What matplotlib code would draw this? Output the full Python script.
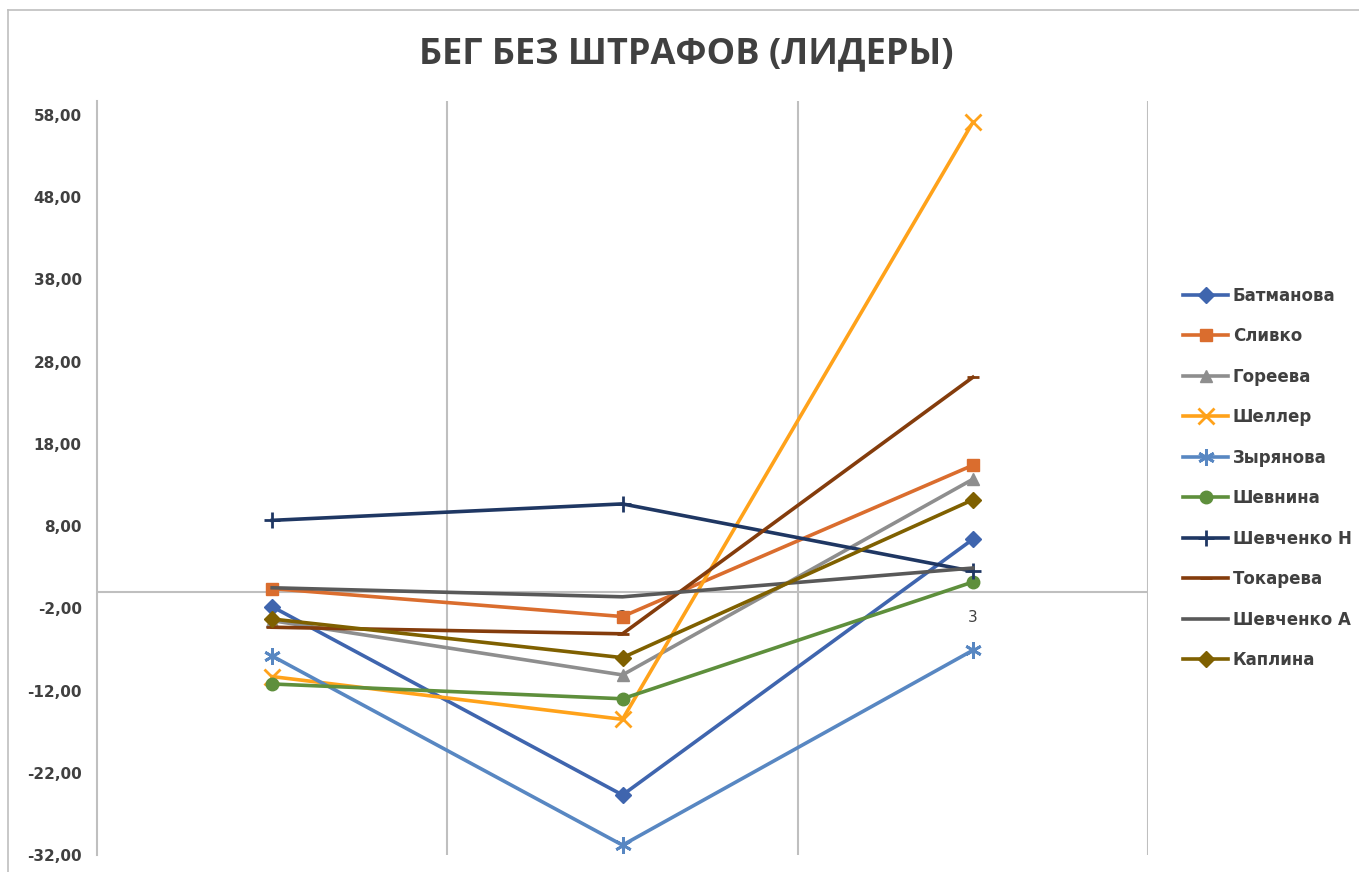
import matplotlib
matplotlib.use("Agg")
import matplotlib.pyplot as plt
from matplotlib.lines import Line2D

# data
categories = ["1", "2", "3"]
names = ["Батманова", "Сливко", "Гореева", "Шеллер", "Зырянова",
         "Шевнина", "Шевченко Н", "Токарева", "Шевченко А", "Каплина"]
batmanova = [-1.8, -24.7, 6.4]
slivko = [0.4, -3.0, 15.4]
goreeva = [-3.5, -10.1, 13.7]
sheller = [-10.3, -15.5, 57.1]
zyryanova = [-7.8, -30.8, -7.1]
shevnina = [-11.2, -13.0, 1.2]
shevchenko_n = [8.7, 10.7, 2.5]
tokareva = [-4.3, -5.1, 26.1]
shevchenko_a = [0.5, -0.6, 2.9]
kaplina = [-3.3, -8.0, 11.2]
yticks = [-32, -22, -12, -2, 8, 18, 28, 38, 48, 58]

series = [batmanova, slivko, goreeva, sheller, zyryanova,
          shevnina, shevchenko_n, tokareva, shevchenko_a, kaplina]
colors = ["#3F65AE", "#DA6D2E", "#8E8E8E", "#FFA21A", "#5887C2",
          "#5E8F3C", "#1F3763", "#843C0C", "#595959", "#7F6000"]
markers = ["D", "s", "^", "x", (6, 2, 0), "o", "+", "_", None, "D"]
msizes = [8, 9, 9, 11, 12, 9, 12, 9, 0, 8]

fig = plt.figure(figsize=(13.59, 8.72), dpi=100)
ax = fig.add_axes([97 / 1359, 17 / 872, (1148 - 97) / 1359, (855 - 101) / 872])

xs = [i + 0.5 for i in range(len(categories))]
for name, vals, c, m, ms in zip(names, series, colors, markers, msizes):
    ax.plot(xs, vals, color=c, lw=2.6, marker=m, markersize=ms,
            markeredgewidth=2 if m in ("x", "+", "_", (6, 2, 0)) else 1,
            markerfacecolor=c, markeredgecolor=c, label=name, zorder=3)

ax.set_xlim(0, 3)
ax.set_ylim(-32, 59.7)
ax.set_yticks(yticks)
ax.set_yticklabels([f"{v:.2f}".replace(".", ",") for v in yticks],
                   fontsize=11, fontweight="bold", color="#404040")
ax.tick_params(axis="y", length=0, pad=11)
ax.set_xticks([])
for s in ["top", "right", "bottom"]:
    ax.spines[s].set_visible(False)
ax.spines["left"].set_color("#BFBFBF")
ax.spines["left"].set_linewidth(1.5)
for gx in [1, 2, 3]:
    ax.axvline(gx, color="#BFBFBF", lw=1.5, zorder=1)
ax.axhline(0, color="#BFBFBF", lw=1.5, zorder=1)
for x, lab in zip(xs, categories):
    ax.text(x, -2.2, lab, ha="center", va="top", fontsize=11, color="#404040",
            zorder=2)

fig.text(0.505, 0.938, "БЕГ БЕЗ ШТРАФОВ (ЛИДЕРЫ)", ha="center", va="center",
         fontsize=26, fontweight="bold", color="#404040", family="Open Sans")

leg = ax.legend(loc="center left", bbox_to_anchor=(1183 / 1359, 1 - 478 / 872),
                bbox_transform=fig.transFigure, frameon=False,
                prop={"size": 12, "weight": "bold"},
                handlelength=2.7, handletextpad=0.3, labelspacing=1.35,
                borderpad=0, borderaxespad=0)
for t in leg.get_texts():
    t.set_color("#404040")

# chart area border
fig.add_artist(Line2D([8 / 1359, 8 / 1359], [0, 1 - 10 / 872], color="#BFBFBF", lw=1.2))
fig.add_artist(Line2D([8 / 1359, 1], [1 - 10 / 872, 1 - 10 / 872], color="#BFBFBF", lw=1.2))

fig.savefig("out.png", dpi=100)
